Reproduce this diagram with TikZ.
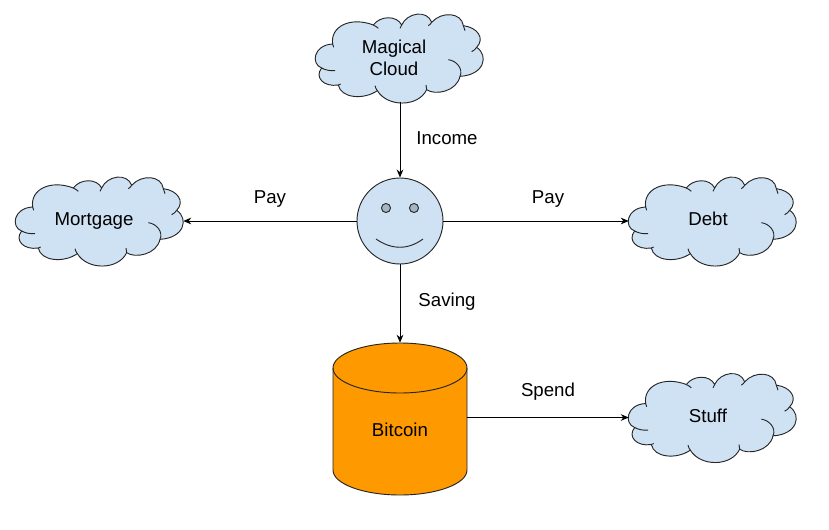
\documentclass[tikz,border=0pt]{standalone}
\usepackage{fontspec}
\setmainfont{Liberation Sans}
\usetikzlibrary{arrows.meta}
\definecolor{cloudblue}{HTML}{CFE2F3}
\definecolor{eyegrey}{HTML}{A6B5C2}
\definecolor{coin}{HTML}{FF9900}
\tikzset{
  x=0.75pt,y=-0.75pt,
  outline/.style={draw=black!85,line width=0.7pt},
  cloudbox/.style={inner sep=0pt,minimum width=125.25pt,minimum height=66pt},
  lbl/.style={font=\fontsize{14}{17}\selectfont,inner sep=0pt},
  conn/.style={draw=black,line width=0.7pt,-{Stealth[length=6pt,width=5pt]}},
}
% #1 name, #2 left, #3 top, #4 text, #5 text x offset, #6 text y offset
\newcommand{\mycloud}[6]{%
  \begin{scope}[shift={(#2,#3)},x=0.25pt,y=-0.25pt]
    \path[outline,fill=cloudblue,shift={(-48,-35)}]
      (98,125) .. controls (90,72) and (152,42) .. (220,68)
      .. controls (240,40) and (290,38) .. (305,68)
      .. controls (322,30) and (382,22) .. (395,60)
      .. controls (425,26) and (485,30) .. (490,70)
      .. controls (532,75) and (556,108) .. (530,135)
      .. controls (567,160) and (553,218) .. (480,222)
      .. controls (470,268) and (405,280) .. (380,262)
      .. controls (355,315) and (262,315) .. (232,265)
      .. controls (190,294) and (122,287) .. (115,248)
      .. controls (72,255) and (42,225) .. (65,197)
      .. controls (32,185) and (40,128) .. (98,125) -- cycle;
    \path[outline,shift={(-48,-35)}]
      (98,125) -- (101,135)
      (65,197) .. controls (75,203) and (90,206) .. (105,205)
      (115,248) -- (122,245)
      (232,265) .. controls (228,260) and (226,255) .. (225,250)
      (380,262) .. controls (379,257) and (378,253) .. (378,248)
      (480,222) .. controls (490,200) and (470,175) .. (445,172)
      (530,135) .. controls (526,141) and (521,145) .. (515,148)
      (490,70) .. controls (491,75) and (493,80) .. (495,85)
      (395,60) .. controls (393,64) and (389,67) .. (385,70)
      (305,68) .. controls (303,71) and (301,75) .. (300,78)
      (220,68) .. controls (226,71) and (231,74) .. (235,78);
  \end{scope}
  \node[cloudbox] (#1) at (#2+83.5,#3+44) {};
  \node[lbl,align=center,font=\fontsize{14}{16.5}\selectfont] (#1text) at (#2+#5,#3+#6) {#4};
}
\begin{document}
\begin{tikzpicture}
\useasboundingbox (0,0) rectangle (829,529);
\mycloud{magic}{316}{14}{Magical\\Cloud}{78}{43.5}
\mycloud{mortgage}{16}{177}{Mortgage}{78}{44}
\mycloud{debt}{629}{177}{Debt}{79}{42}
\mycloud{stuff}{629}{373.5}{Stuff}{79}{42.5}
% bitcoin
\path[outline,fill=coin] (333,368) arc[start angle=180,end angle=0,x radius=67,y radius=-25]
  -- (467,470) arc[start angle=0,end angle=-180,x radius=67,y radius=-25] -- cycle;
\draw[outline] (333,368) arc[start angle=180,end angle=360,x radius=67,y radius=-25];
\node[lbl,minimum width=100.5pt,minimum height=114pt] (bitcoin) at (400,419) {};
\node[lbl] (bitcointext) at (400,430) {Bitcoin};
% face
\node[circle,outline,fill=cloudblue,minimum size=64.5pt,inner sep=0pt] (face) at (400,221) {};
\path[outline,fill=eyegrey] (386,208) circle[radius=3.4pt] (414,208) circle[radius=3.4pt];
\draw[outline] (376,239) .. controls (392,250) and (408,250) .. (423,239);
% connectors
\draw[conn] (magic.south -| face.north) -- (face.north);
\draw[conn] (face.west) -- (mortgage.east);
\draw[conn] (face.east) -- (debt.west);
\draw[conn] (face.south) -- (bitcoin.north);
\draw[conn] (bitcoin.east |- stuff.west) -- (stuff.west);
% labels
\node[lbl] (income) at (447,138) {Income};
\node[lbl] (payl) at (270,199) {Pay};
\node[lbl] (payr) at (548,199) {Pay};
\node[lbl] (saving) at (447,302) {Saving};
\node[lbl] (spend) at (548,391.5) {Spend};
\end{tikzpicture}
\end{document}
